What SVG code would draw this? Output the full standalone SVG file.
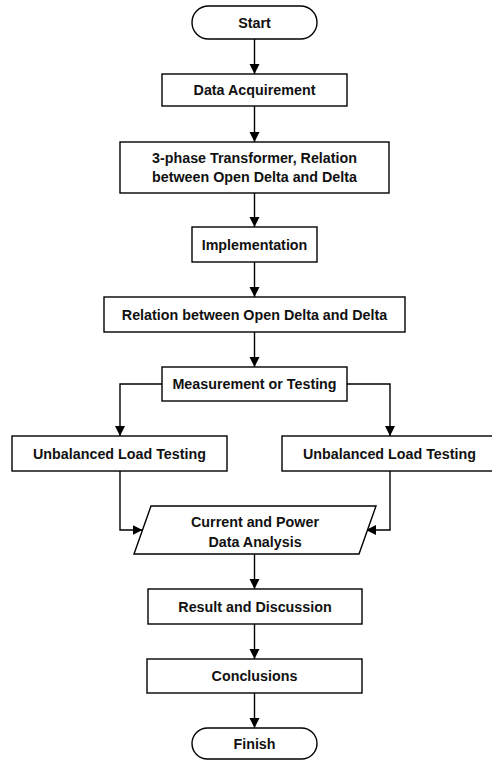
<svg xmlns="http://www.w3.org/2000/svg" width="492" height="761" viewBox="0 0 492 761">
<style>
.s{fill:#fff;stroke:#000;stroke-width:1.4}
.t{font-family:"Liberation Sans",Arial,sans-serif;font-weight:bold;font-size:14.3px;fill:#111;text-anchor:middle}
.c{fill:none;stroke:#000;stroke-width:1.4}
</style>
<defs>
<marker id="a" markerWidth="10" markerHeight="12" refX="10" refY="5" orient="auto" markerUnits="userSpaceOnUse" viewBox="0 0 10 10">
<path d="M0,0 L10,5 L0,10 Z" fill="#000"/>
</marker>
</defs>
<rect width="492" height="761" fill="#fff"/>
<g id="connectors">
<line class="c" x1="254.5" y1="39" x2="254.5" y2="74" marker-end="url(#a)"/>
<line class="c" x1="254.5" y1="106" x2="254.5" y2="142" marker-end="url(#a)"/>
<line class="c" x1="254.5" y1="193" x2="254.5" y2="227" marker-end="url(#a)"/>
<line class="c" x1="254.5" y1="262" x2="254.5" y2="297" marker-end="url(#a)"/>
<line class="c" x1="254.5" y1="332" x2="254.5" y2="367" marker-end="url(#a)"/>
<polyline class="c" points="162,384 120,384 120,436" marker-end="url(#a)"/>
<polyline class="c" points="347,384 390,384 390,436" marker-end="url(#a)"/>
<polyline class="c" points="120,471 120,530 142.5,530" marker-end="url(#a)"/>
<polyline class="c" points="390,471 390,530 366,530" marker-end="url(#a)"/>
<line class="c" x1="254.5" y1="554" x2="254.5" y2="589" marker-end="url(#a)"/>
<line class="c" x1="254.5" y1="624" x2="254.5" y2="659" marker-end="url(#a)"/>
<line class="c" x1="254.5" y1="693" x2="254.5" y2="728" marker-end="url(#a)"/>
</g>
<g id="start"><rect class="s" x="192" y="6" width="125" height="33" rx="16.5"/><text class="t" x="254.5" y="27.5">Start</text></g>
<g id="data-acquirement"><rect class="s" x="162" y="74" width="185" height="32"/><text class="t" x="254.5" y="95">Data Acquirement</text></g>
<g id="transformer"><rect class="s" x="120" y="142" width="269" height="51"/><text class="t" x="254.5" y="163">3-phase Transformer, Relation</text><text class="t" x="254.5" y="182">between Open Delta and Delta</text></g>
<g id="implementation"><rect class="s" x="192" y="227" width="125" height="35"/><text class="t" x="254.5" y="249.5">Implementation</text></g>
<g id="relation"><rect class="s" x="104" y="297" width="301" height="35"/><text class="t" x="254.5" y="319.5">Relation between Open Delta and Delta</text></g>
<g id="measurement"><rect class="s" x="162" y="367" width="185" height="34"/><text class="t" x="254.5" y="389">Measurement or Testing</text></g>
<g id="unbalanced-left"><rect class="s" x="12" y="436" width="215" height="35"/><text class="t" x="119.5" y="458.5">Unbalanced Load Testing</text></g>
<g id="unbalanced-right"><rect class="s" x="282" y="436" width="215" height="35"/><text class="t" x="389.5" y="458.5">Unbalanced Load Testing</text></g>
<g id="analysis"><polygon class="s" points="151,506 376,506 359,554 134,554"/><text class="t" x="255" y="527">Current and Power</text><text class="t" x="255" y="547">Data Analysis</text></g>
<g id="result"><rect class="s" x="148" y="589" width="214" height="35"/><text class="t" x="255" y="611.5">Result and Discussion</text></g>
<g id="conclusions"><rect class="s" x="147" y="659" width="215" height="34"/><text class="t" x="254.5" y="681">Conclusions</text></g>
<g id="finish"><rect class="s" x="192" y="728" width="125" height="31" rx="15.5"/><text class="t" x="254.5" y="748.5">Finish</text></g>
</svg>
